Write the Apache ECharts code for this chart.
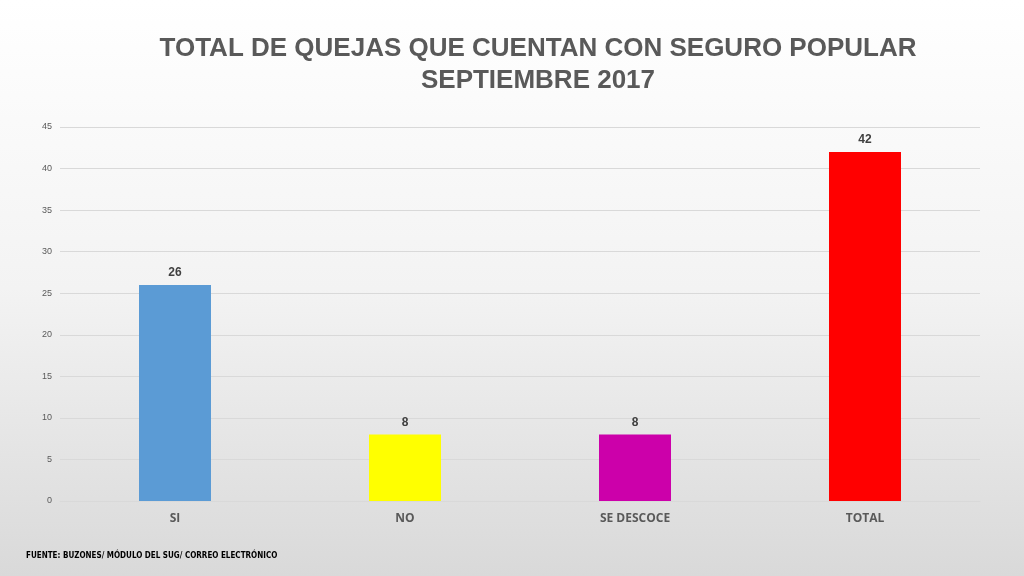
<!DOCTYPE html>
<html><head><meta charset="utf-8">
<script src="https://cdn.jsdelivr.net/npm/echarts@6/dist/echarts.min.js"></script>
<style>html,body{margin:0;padding:0;}#c{width:1024px;height:576px;background:linear-gradient(#ffffff 0%,#f3f3f3 50%,#d9d9d9 100%);}</style>
</head><body><div id="c"></div>
<script>
const categories=['SI','NO','SE DESCOCE','TOTAL'];
const values=[26,8,8,42];
const colors=['#5b9bd5','#ffff00','#cc00aa','#ff0000'];
const chart=echarts.init(document.getElementById('c'));
chart.setOption({
 backgroundColor:'transparent',
 title:{text:'TOTAL DE QUEJAS QUE CUENTAN CON SEGURO POPULAR\nSEPTIEMBRE 2017',left:533,top:28,textAlign:'center',
  textStyle:{fontFamily:'Liberation Sans',fontSize:26,fontWeight:'bold',color:'#595959',lineHeight:32}},
 graphic:[{type:'text',left:26,top:552,style:{text:'FUENTE: BUZONES/ MÓDULO DEL SUG/ CORREO ELECTRÓNICO',font:'bold 8px "Liberation Sans Narrow", "DejaVu Sans Condensed", sans-serif',fill:'#000'}}],
 grid:{left:60,right:44,top:127,bottom:75},
 xAxis:{type:'category',data:categories,axisLine:{lineStyle:{color:'#d9d9d9'}},axisTick:{show:false},
  axisLabel:{color:'#595959',fontWeight:'bold',fontSize:12,margin:12,fontFamily:'Open Sans'}},
 yAxis:{type:'value',min:0,max:45,interval:5,axisLine:{show:false},axisTick:{show:false},
  splitLine:{lineStyle:{color:'#d9d9d9'}},axisLabel:{color:'#595959',fontSize:9,margin:8}},
 series:[{type:'bar',barWidth:72,data:values.map((v,i)=>({value:v,itemStyle:{color:colors[i]}})),
  label:{show:true,position:'top',color:'#404040',fontWeight:'bold',fontSize:12,distance:6}}]
});
</script></body></html>
